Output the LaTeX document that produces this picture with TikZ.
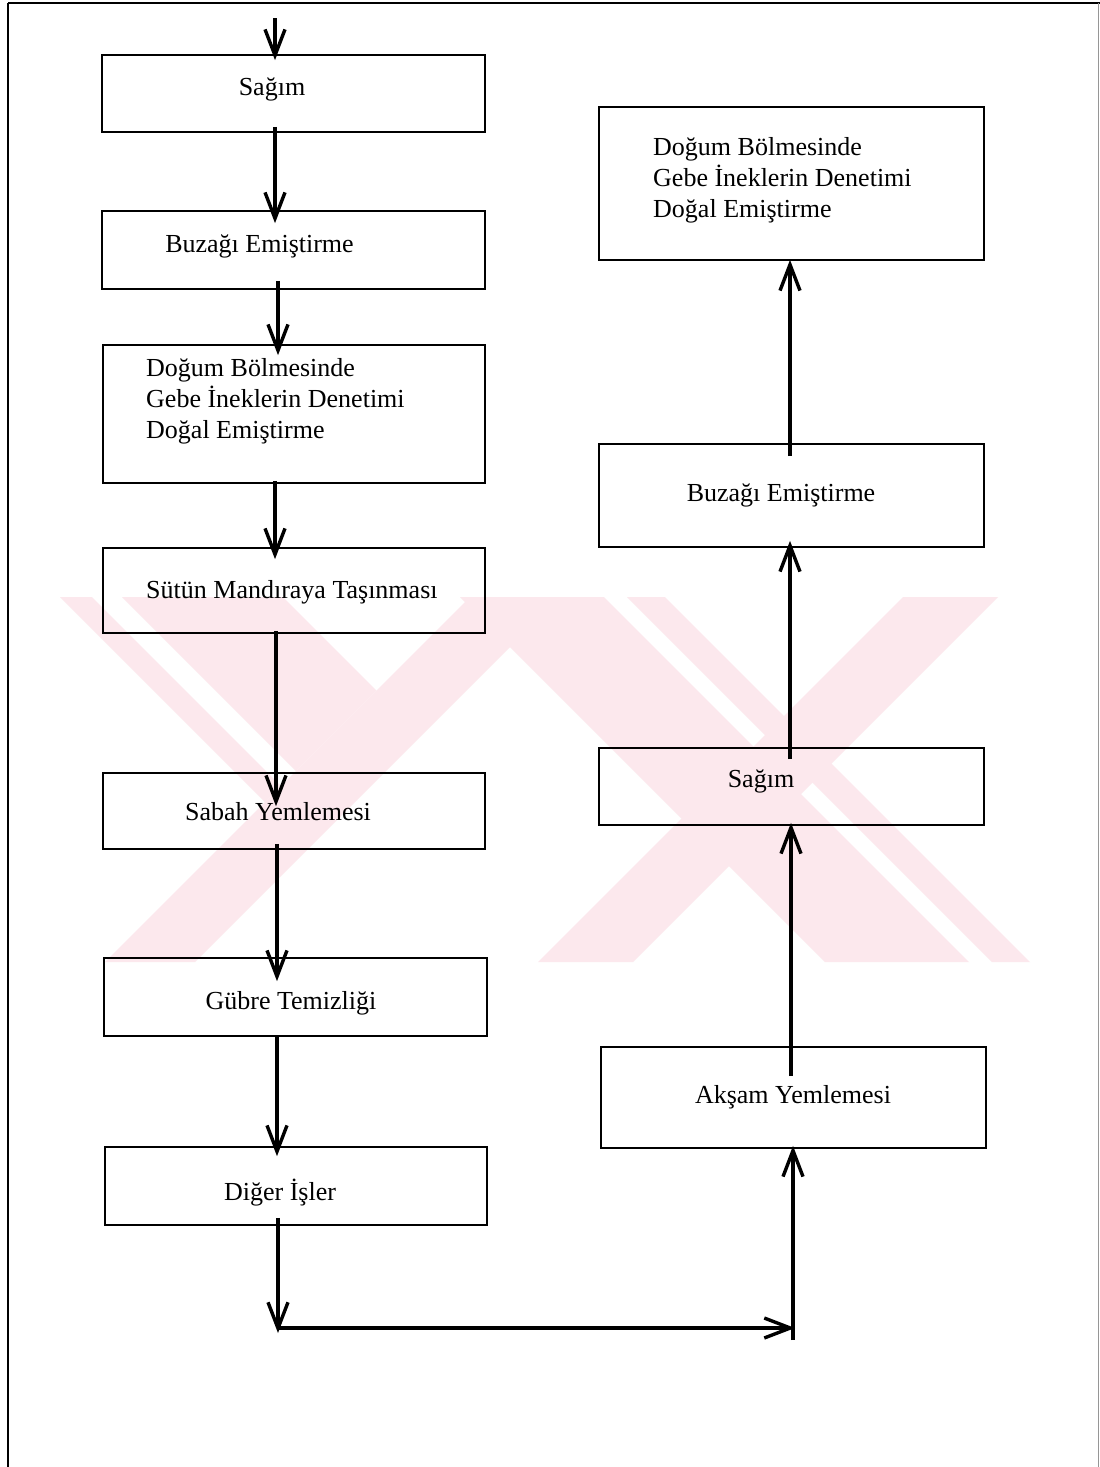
\documentclass[tikz,border=0pt]{standalone}
\usepackage{fontspec}
\setmainfont{Liberation Serif}
\usetikzlibrary{arrows.meta,calc}
\definecolor{wm}{RGB}{252,232,237}
\definecolor{framegray}{RGB}{150,150,150}
\tikzset{
  box/.style={draw=black, line width=1.7pt, rectangle, inner sep=0pt, fill=none},
  lbl/.style={inner sep=0pt, anchor=base, font=\fontsize{26}{31}\selectfont},
  lbll/.style={inner sep=0pt, anchor=base west, font=\fontsize{26}{31}\selectfont},
  arr/.style={line width=3.4pt, -{Straight Barb[length=26pt,width=20pt]}},
  wmark/.style={fill=wm, draw=none}
}
\begin{document}
\begin{tikzpicture}[x=1pt, y=-1pt]
\useasboundingbox (0,0) rectangle (1100,1467);
\fill[white] (0,0) rectangle (1100,1467);
% watermark
\fill[wmark] (60,597) -- (92,597) -- (281,786) -- (265,802) -- cycle;
\fill[wmark] (122,597) -- (283,597) -- (376.5,690.5) -- (296,771) -- cycle;
\fill[wmark] (470,597) -- (560,597) -- (195,962) -- (105,962) -- cycle;
\fill[wmark] (460,597) -- (604,597) -- (969,962) -- (825,962) -- cycle;
\fill[wmark] (627,597) -- (665,597) -- (1030,962) -- (992,962) -- cycle;
\fill[wmark] (903,597) -- (998,597) -- (633,962) -- (538,962) -- cycle;
% page frame
\draw[line width=1.5pt] (8,3) -- (1100,3);
\draw[line width=1.8pt] (8,3) -- (8,1467);
\draw[framegray, line width=1pt] (1098.5,3) -- (1098.5,1467);
% left column boxes
\node[box, minimum width=383pt, minimum height=77pt] (s1) at (293.5,93.5) {};
\node[box, minimum width=383pt, minimum height=78pt] (s2) at (293.5,250) {};
\node[box, minimum width=382pt, minimum height=138pt] (s3) at (294,414) {};
\node[box, minimum width=382pt, minimum height=85pt] (s4) at (294,590.5) {};
\node[box, minimum width=382pt, minimum height=76pt] (s5) at (294,811) {};
\node[box, minimum width=383pt, minimum height=78pt] (s6) at (295.5,997) {};
\node[box, minimum width=382pt, minimum height=78pt] (s7) at (296,1186) {};
% right column boxes
\node[box, minimum width=385pt, minimum height=153pt] (r1) at (791.5,183.5) {};
\node[box, minimum width=385pt, minimum height=103pt] (r2) at (791.5,495.5) {};
\node[box, minimum width=385pt, minimum height=77pt] (r3) at (791.5,786.5) {};
\node[box, minimum width=385pt, minimum height=101pt] (r4) at (793.5,1097.5) {};
% texts
\node[lbl] (s1t) at (272,95) {Sağım};
\node[lbl] (s2t) at (259.5,252) {Buzağı Emiştirme};
\node[lbll] (s3a) at (146,376) {Doğum Bölmesinde};
\node[lbll] (s3b) at (146,407) {Gebe İneklerin Denetimi};
\node[lbll] (s3c) at (146,438) {Doğal Emiştirme};
\node[lbll] (s4t) at (146,598) {Sütün Mandıraya Taşınması};
\node[lbl] (s5t) at (278,820) {Sabah Yemlemesi};
\node[lbl] (s6t) at (291,1009) {Gübre Temizliği};
\node[lbl] (s7t) at (280,1200) {Diğer İşler};
\node[lbll] (r1a) at (653,155) {Doğum Bölmesinde};
\node[lbll] (r1b) at (653,186) {Gebe İneklerin Denetimi};
\node[lbll] (r1c) at (653,217) {Doğal Emiştirme};
\node[lbl] (r2t) at (781,501) {Buzağı Emiştirme};
\node[lbl] (r3t) at (761,787) {Sağım};
\node[lbl] (r4t) at (793,1103) {Akşam Yemlemesi};
% helper coordinates
\coordinate (start) at (275,18);
\coordinate (xa) at (275,0);
\coordinate (xb) at (278,0);
\coordinate (xc) at (276,0);
\coordinate (xd) at (277,0);
\coordinate (xr) at (791,0);
\coordinate (xs) at (790,0);
\coordinate (corner) at (278,1328);
\coordinate (turn) at (795,1328);
\coordinate (foot) at (793,1340);
% left column connectors
\draw[arr] (start) -- ($(s1.north -| xa)+(0,6)$);
\draw[arr] ($(s1.south -| xa)+(0,-6)$) -- ($(s2.north -| xa)+(0,13)$);
\draw[arr] ($(s2.south -| xb)+(0,-9)$) -- ($(s3.north -| xb)+(0,11)$);
\draw[arr] ($(s3.south -| xa)+(0,-3)$) -- ($(s4.north -| xa)+(0,12)$);
\draw[arr] ($(s4.south -| xc)+(0,-3)$) -- ($(s5.north -| xc)+(0,34)$);
\draw[arr] ($(s5.south -| xd)+(0,-6)$) -- ($(s6.north -| xd)+(0,24)$);
\draw[arr] ($(s6.south -| xd)+(0,0)$) -- ($(s7.north -| xd)+(0,10)$);
\draw[arr] ($(s7.south -| xb)+(0,-8)$) -- ($(corner)+(0,5)$);
\draw[arr] (corner) -- (turn);
\draw[arr] (foot) -- ($(r4.south -| foot)+(0,-3)$);
% right column connectors
\draw[arr] ($(r4.north -| xr)+(0,30)$) -- ($(r3.south -| xr)+(0,-3)$);
\draw[arr] ($(r3.north -| xs)+(0,12)$) -- ($(r2.south -| xs)+(0,-7)$);
\draw[arr] ($(r2.north -| xs)+(0,13)$) -- ($(r1.south -| xs)+(0,-1)$);
\end{tikzpicture}
\end{document}
